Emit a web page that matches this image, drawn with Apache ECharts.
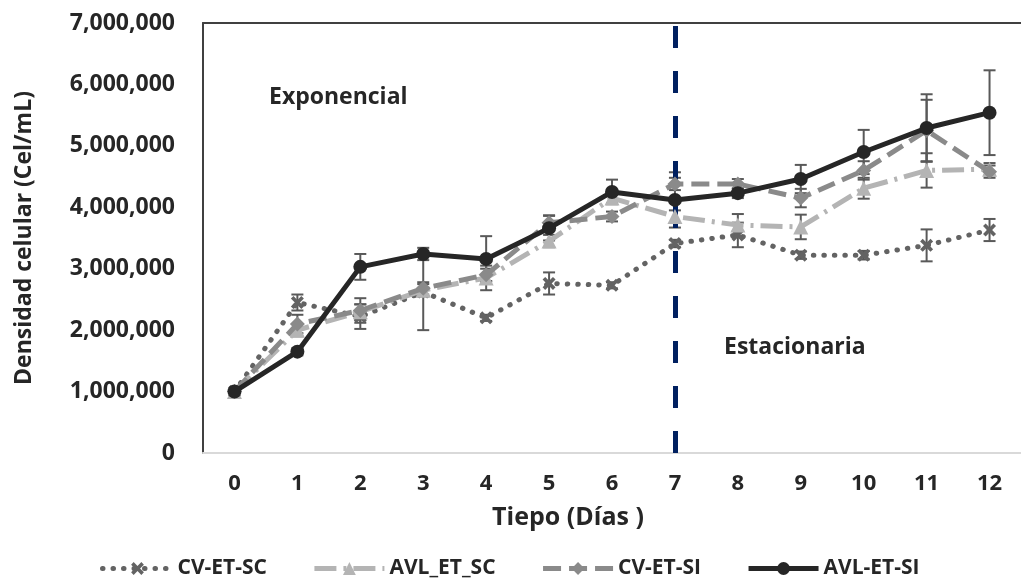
<!DOCTYPE html>
<html>
<head>
<meta charset="utf-8">
<script src="https://cdn.jsdelivr.net/npm/echarts@6/dist/echarts.min.js"></script>
<style>
  html, body { margin: 0; padding: 0; background: #fff; }
  #chart { width: 1021px; height: 579px; }
</style>
</head>
<body>
<div id="chart"></div>
<script>
var days = ['0', '1', '2', '3', '4', '5', '6', '7', '8', '9', '10', '11', '12'];

// densidad celular (Cel/mL)
var cvEtSc  = [1000000, 2450000, 2220000, 2620000, 2200000, 2760000, 2730000, 3410000, 3550000, 3220000, 3220000, 3380000, 3630000];
var avlEtSc = [1000000, 2000000, 2300000, 2650000, 2850000, 3450000, 4150000, 3850000, 3710000, 3680000, 4310000, 4600000, 4620000];
var cvEtSi  = [1000000, 2100000, 2320000, 2680000, 2900000, 3750000, 3850000, 4380000, 4380000, 4150000, 4600000, 5250000, 4580000];
var avlEtSi = [1000000, 1650000, 3030000, 3240000, 3160000, 3660000, 4250000, 4120000, 4230000, 4460000, 4900000, 5290000, 5540000];

// desviaciones (barras de error)
var cvEtScErr  = [0, 130000, 200000, 620000, 50000, 180000, 50000, 60000, 200000, 60000, 70000, 260000, 180000];
var avlEtScErr = [0, 100000, 120000, 100000, 200000, 100000, 80000, 100000, 180000, 200000, 170000, 280000, 100000];
var cvEtSiErr  = [0, 150000, 200000, 100000, 100000, 120000, 80000, 100000, 80000, 150000, 150000, 500000, 100000];
var avlEtSiErr = [0, 60000, 210000, 100000, 370000, 200000, 200000, 450000, 80000, 230000, 360000, 550000, 690000];

var yTicks = [0, 1000000, 2000000, 3000000, 4000000, 5000000, 6000000, 7000000];

var labelColor = '#262626';
var fontFam = '"Open Sans", "Noto Sans", sans-serif';

function errData(vals, errs) {
    return vals.map(function (v, i) {
        return [i, v - errs[i], v + errs[i]];
    });
}

function renderErr(params, api) {
    var x = api.value(0);
    var lo = api.coord([x, api.value(1)]);
    var hi = api.coord([x, api.value(2)]);
    var w = 6;
    var st = { stroke: '#595959', lineWidth: 2 };
    return {
        type: 'group',
        children: [
            { type: 'line', shape: { x1: lo[0], y1: lo[1], x2: hi[0], y2: hi[1] }, style: st },
            { type: 'line', shape: { x1: lo[0] - w, y1: lo[1], x2: lo[0] + w, y2: lo[1] }, style: st },
            { type: 'line', shape: { x1: hi[0] - w, y1: hi[1], x2: hi[0] + w, y2: hi[1] }, style: st }
        ]
    };
}

function errSeries(name, vals, errs) {
    return {
        name: name,
        type: 'custom',
        renderItem: renderErr,
        encode: { x: 0, y: [1, 2] },
        data: errData(vals, errs),
        z: 3,
        silent: true
    };
}

var xSymbol = 'path://M2,0 L5,3 L8,0 L10,2 L7,5 L10,8 L8,10 L5,7 L2,10 L0,8 L3,5 L0,2 Z';

var myChart = echarts.init(document.getElementById('chart'));

var option = {
    animation: false,
    backgroundColor: '#fff',
    grid: { left: 203, right: -9, top: 23, bottom: 126 },
    legend: {
        data: ['CV-ET-SC', 'AVL_ET_SC', 'CV-ET-SI', 'AVL-ET-SI'],
        top: 553,
        left: 95,
        itemWidth: 70,
        itemHeight: 16,
        itemGap: 45,
        lineStyle: { width: 5 },
        textStyle: { color: labelColor, fontSize: 21, fontWeight: 'bold', fontFamily: fontFam }
    },
    xAxis: [{
        type: 'category',
        data: days,
        boundaryGap: true,
        name: 'Tiepo (Días )',
        nameLocation: 'middle',
        nameGap: 52,
        nameTextStyle: {
            color: labelColor, fontSize: 25, fontWeight: 'bold', fontFamily: fontFam,
            padding: [0, 88, 0, 0]
        },
        axisLine: { lineStyle: { color: '#d9d9d9', width: 2 } },
        axisTick: { show: false },
        axisLabel: { color: labelColor, fontSize: 22, fontWeight: 'bold', fontFamily: fontFam, margin: 20 }
    }, {
        type: 'category',
        data: days,
        position: 'top',
        axisLine: { show: true, lineStyle: { color: '#404040', width: 2 } },
        axisTick: { show: false },
        axisLabel: { show: false }
    }],
    yAxis: {
        type: 'value',
        min: yTicks[0],
        max: yTicks[yTicks.length - 1],
        interval: 1000000,
        name: 'Densidad celular (Cel/mL)',
        nameLocation: 'middle',
        nameGap: 167,
        nameTextStyle: { color: labelColor, fontSize: 23, fontWeight: 'bold', fontFamily: fontFam },
        axisLine: { show: true, lineStyle: { color: '#404040', width: 2 } },
        axisTick: { show: false },
        splitLine: { show: false },
        axisLabel: {
            color: labelColor, fontSize: 23, fontWeight: 'bold', fontFamily: fontFam, margin: 28,
            formatter: function (v) {
                return String(v).replace(/\B(?=(\d{3})+(?!\d))/g, ',');
            }
        }
    },
    graphic: [
        { type: 'text', left: 269, top: 86, style: { text: 'Exponencial', fill: labelColor, font: 'bold 23px "Open Sans", sans-serif' } },
        { type: 'text', left: 724, top: 336, style: { text: 'Estacionaria', fill: labelColor, font: 'bold 23px "Open Sans", sans-serif' } }
    ],
    series: [
        errSeries('errCvSc', cvEtSc, cvEtScErr),
        errSeries('errAvlSc', avlEtSc, avlEtScErr),
        errSeries('errCvSi', cvEtSi, cvEtSiErr),
        errSeries('errAvlSi', avlEtSi, avlEtSiErr),
        {
            name: 'CV-ET-SC',
            type: 'line',
            data: cvEtSc,
            symbol: xSymbol,
            symbolSize: 13,
            itemStyle: { color: '#636363' },
            lineStyle: { color: '#636363', width: 5, type: [0.5, 10], cap: 'round' },
            z: 4
        },
        {
            name: 'AVL_ET_SC',
            type: 'line',
            data: avlEtSc,
            symbol: 'triangle',
            symbolSize: 15,
            itemStyle: { color: '#b4b4b4' },
            lineStyle: { color: '#b4b4b4', width: 5, type: [22, 7, 3, 7] },
            z: 5
        },
        {
            name: 'CV-ET-SI',
            type: 'line',
            data: cvEtSi,
            symbol: 'diamond',
            symbolSize: 15,
            itemStyle: { color: '#8a8a8a' },
            lineStyle: { color: '#8a8a8a', width: 5, type: [18, 8] },
            z: 6
        },
        {
            name: 'AVL-ET-SI',
            type: 'line',
            data: avlEtSi,
            symbol: 'circle',
            symbolSize: 14,
            itemStyle: { color: '#262626' },
            lineStyle: { color: '#262626', width: 5 },
            z: 7,
            markLine: {
                silent: true,
                symbol: 'none',
                label: { show: false },
                lineStyle: { color: '#002060', width: 5, type: [22, 23] },
                data: [{ xAxis: '7' }]
            }
        }
    ]
};

myChart.setOption(option);
</script>
</body>
</html>
